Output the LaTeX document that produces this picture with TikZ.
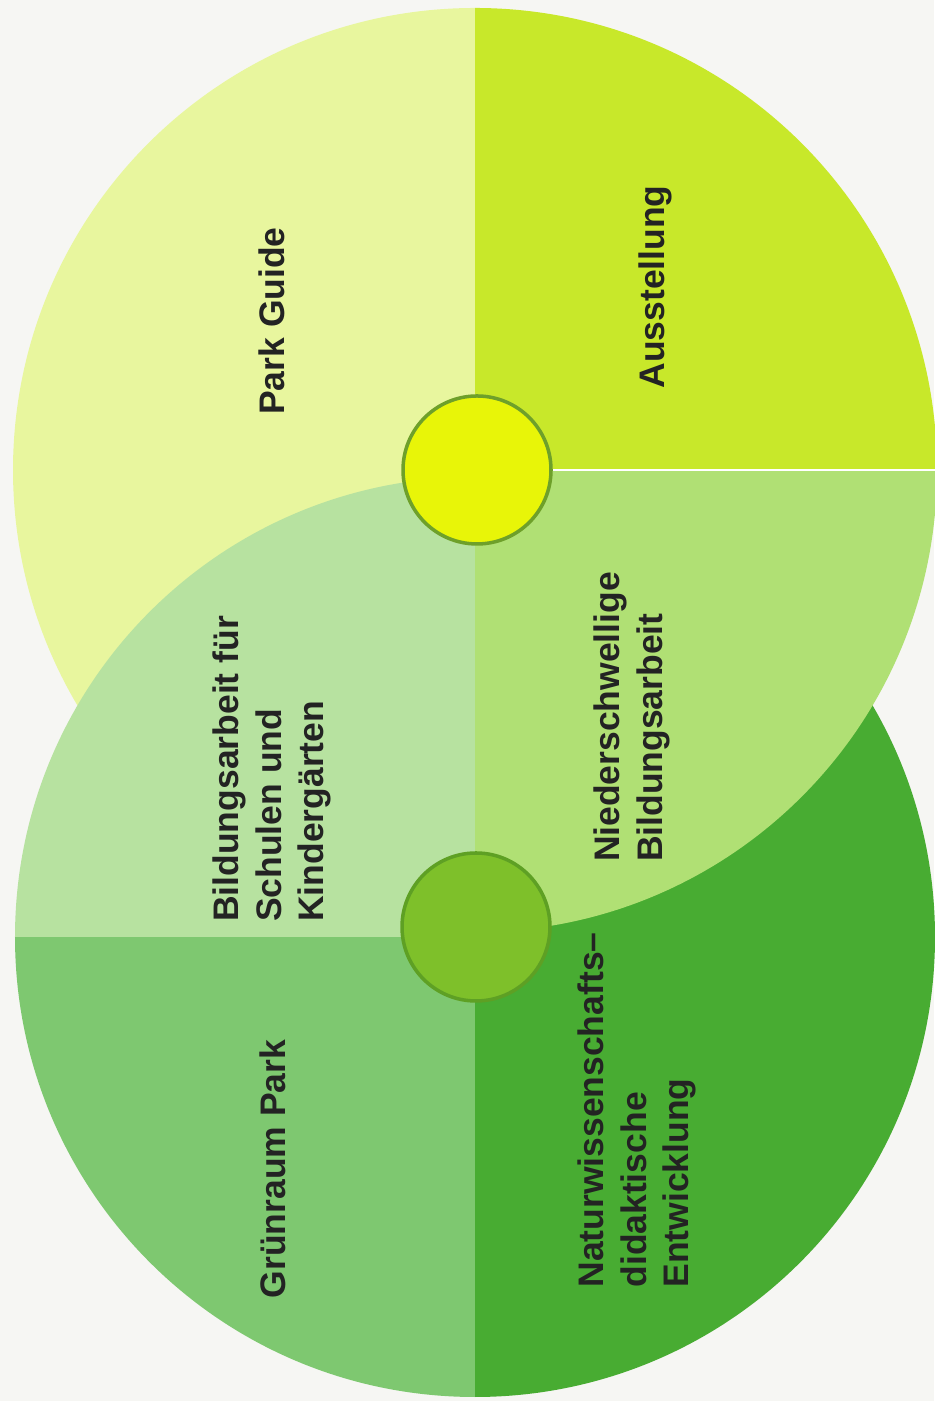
\documentclass[tikz,border=0pt]{standalone}
\usepackage{fontspec}
\setmainfont{Liberation Sans}

\begin{document}
\begin{tikzpicture}[
  quadlabel/.style={font=\bfseries\fontsize{10.1}{12.2}\selectfont, text=labelText, rotate=90, align=left, inner sep=0pt}, % rotated quarter labels
  hubdot/.style={circle, minimum size=1.48cm, inner sep=0pt, line width=1pt} % small circles at the centres
]

% Define colors for the quarters
\definecolor{paperColor}{RGB}{246,246,243} % scanned paper
\definecolor{parkGuideColor}{RGB}{232,246,158} % pale yellow green
\definecolor{ausstellungColor}{RGB}{200,232,42} % yellow green
\definecolor{niederColor}{RGB}{176,224,116} % light green
\definecolor{bildungColor}{RGB}{183,226,160} % mint
\definecolor{gruenraumColor}{RGB}{126,200,112} % medium green
\definecolor{naturColor}{RGB}{72,172,50} % dark green
\definecolor{hubYellow}{RGB}{232,245,8} % upper small circle
\definecolor{hubYellowRim}{RGB}{110,160,42}
\definecolor{hubGreen}{RGB}{126,192,42} % lower small circle
\definecolor{hubGreenRim}{RGB}{94,160,36}
\definecolor{labelText}{RGB}{35,35,35}

% Paper and page size
\fill[paperColor] (0,0) rectangle (9.34,14.01);
\useasboundingbox (0,0) rectangle (9.34,14.01);

% Centres of the two big circles
\coordinate (upperC) at (4.75,9.31);
\coordinate (lowerC) at (4.75,4.64);

% Upper circle: left half and upper right quarter
\fill[parkGuideColor] (upperC) -- ++(0,4.62) arc (90:270:4.62) -- cycle;
\fill[ausstellungColor] (upperC) -- ++(4.62,0) arc (0:90:4.62) -- cycle;

% Lower circle
\fill[gruenraumColor] (lowerC) -- ++(-4.6,0) arc (180:270:4.6) -- cycle;
\fill[naturColor] (lowerC) -- ++(0,-4.6) arc (270:450:4.6) -- cycle;
\fill[bildungColor] (lowerC) -- ++(0,4.6) arc (90:180:4.6) -- cycle;

% Upper circle, lower right quarter lies over the lower circle
\fill[niederColor] (upperC) -- ++(0,-4.62) arc (270:360:4.62) -- cycle;
\draw[white, line width=0.6pt] (upperC) -- ++(4.62,0); % thin seam

% Small circles
\node[hubdot, fill=hubYellow, draw=hubYellowRim] (hubTop) at (4.77,9.31) {};
\node[hubdot, fill=hubGreen, draw=hubGreenRim] (hubBottom) at (4.76,4.74) {};

% Labels
\node[quadlabel] (parkGuide) at (2.72,10.80) {Park Guide};
\node[quadlabel] (ausstellung) at (6.55,11.14) {Ausstellung};
\node[quadlabel] (bildung) at (2.72,6.32) {Bildungsarbeit für\\Schulen und\\Kindergärten};
\node[quadlabel] (nieder) at (6.32,6.84) {Niederschwellige\\Bildungsarbeit};
\node[quadlabel] (gruenraum) at (2.73,2.32) {Grünraum Park};
\node[quadlabel] (natur) at (6.37,2.91) {Naturwissenschafts–\\didaktische\\Entwicklung};

\end{tikzpicture}
\end{document}
